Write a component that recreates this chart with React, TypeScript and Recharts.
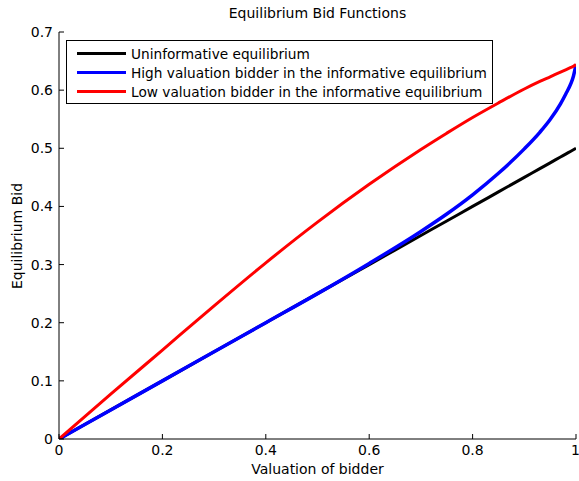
import React from 'react';
import { LineChart, Line, XAxis, YAxis } from 'recharts';

// valuation grid (denser near 1 where the informative curve turns up)
const valuation = [0, 0.1, 0.2, 0.3, 0.4, 0.5, 0.6, 0.7, 0.75, 0.8, 0.85, 0.9, 0.93, 0.95, 0.97, 0.98, 0.99, 0.995, 1];
const uninformative = [0, 0.05, 0.1, 0.15, 0.2, 0.25, 0.3, 0.35, 0.375, 0.4, 0.425, 0.45, 0.465, 0.475, 0.485, 0.49, 0.495, 0.4975, 0.5];
const highBidder = [0, 0.05, 0.1, 0.15, 0.2, 0.25, 0.302, 0.357, 0.387, 0.42, 0.457, 0.499, 0.5275, 0.5495, 0.5765, 0.593, 0.611, 0.624, 0.644];
const lowBidder = [0, 0.077, 0.153, 0.229, 0.303, 0.373, 0.438, 0.498, 0.526, 0.553, 0.578, 0.602, 0.615, 0.623, 0.631, 0.635, 0.639, 0.641, 0.644];

const xTicks = [0, 0.2, 0.4, 0.6, 0.8, 1];
const yTicks = [0, 0.1, 0.2, 0.3, 0.4, 0.5, 0.6, 0.7];

const seriesNames = [
  'Uninformative equilibrium',
  'High valuation bidder in the informative equilibrium',
  'Low valuation bidder in the informative equilibrium',
];
const seriesColors = ['#000000', '#0000ff', '#ff0000'];

const data = valuation.map((v, i) => ({
  v,
  uninf: uninformative[i],
  high: highBidder[i],
  low: lowBidder[i],
}));

const font = '"DejaVu Sans", Arial, sans-serif';

const LegendBox = () => (
  <div
    style={{
      position: 'absolute',
      left: 66,
      top: 40,
      border: '1px solid #000',
      background: '#fff',
      width: 427,
      height: 64,
      boxSizing: 'border-box',
      paddingTop: 3,
      fontFamily: font,
      fontSize: 13.7,
    }}
  >
    {seriesNames.map((name, i) => (
      <div key={name} style={{ display: 'flex', alignItems: 'center', height: 19 }}>
        <div style={{ width: 49, height: 3, flexShrink: 0, background: seriesColors[i], marginLeft: 10, marginRight: 5 }} />
        <span style={{ color: '#000', whiteSpace: 'nowrap' }}>{name}</span>
      </div>
    ))}
  </div>
);

const fmt = (t: number) => String(t);

const App = () => {
  return (
    <div style={{ position: 'absolute', left: 0, top: 0, width: 579, height: 481, background: '#fff', fontFamily: font }}>
      <div style={{ position: 'absolute', top: 5, left: 59, width: 517, textAlign: 'center', fontSize: 14, color: '#000' }}>
        Equilibrium Bid Functions
      </div>
      <div style={{ position: 'absolute', top: 461, left: 59, width: 517, textAlign: 'center', fontSize: 14, color: '#000' }}>
        Valuation of bidder
      </div>
      <div
        style={{
          position: 'absolute',
          left: 17,
          top: 236,
          fontSize: 14,
          color: '#000',
          transform: 'translate(-50%, -50%) rotate(-90deg)',
          whiteSpace: 'nowrap',
        }}
      >
        Equilibrium Bid
      </div>
      <LineChart width={579} height={481} data={data} margin={{ top: 32, right: 3, left: 0, bottom: 0 }}>
        <XAxis
          dataKey="v"
          type="number"
          domain={[0, 1]}
          ticks={xTicks}
          tickFormatter={fmt}
          height={42}
          stroke="#000"
          tickSize={-5}
          tickMargin={11}
          tick={{ fill: '#000', fontSize: 14, fontFamily: font }}
          allowDataOverflow
        />
        <YAxis
          type="number"
          domain={[0, 0.7]}
          ticks={yTicks}
          tickFormatter={fmt}
          width={59}
          stroke="#000"
          tickSize={-5}
          tickMargin={11}
          tick={{ fill: '#000', fontSize: 14, fontFamily: font }}
          allowDataOverflow
        />
        <Line type="monotone" dataKey="uninf" stroke="#000000" strokeWidth={3} dot={false} isAnimationActive={false} />
        <Line type="monotone" dataKey="high" stroke="#0000ff" strokeWidth={3.5} dot={false} isAnimationActive={false} />
        <Line type="monotone" dataKey="low" stroke="#ff0000" strokeWidth={3} dot={false} isAnimationActive={false} />
      </LineChart>
      <LegendBox />
    </div>
  );
};

export default App;
